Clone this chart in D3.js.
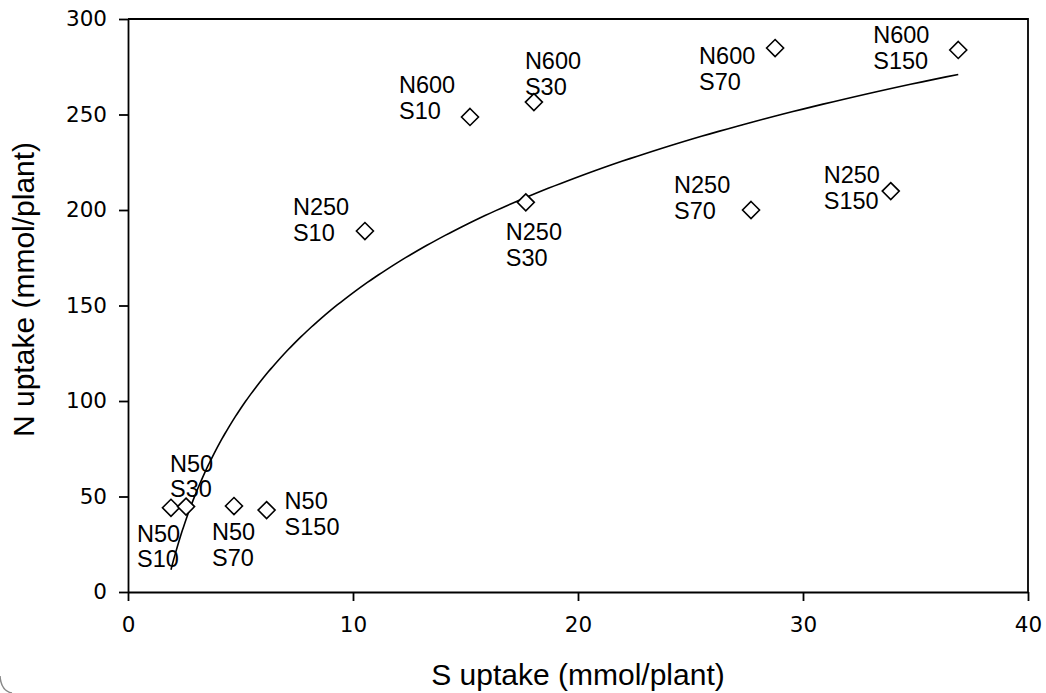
<!DOCTYPE html>
<html>
<head>
<meta charset="utf-8">
<script src="https://cdn.jsdelivr.net/npm/d3@7"></script>
<style>
  body { margin: 0; background: #fff; }
</style>
</head>
<body>
<div class="canvas"></div>
<script>
// data
const treatments = ['N50 S10','N50 S30','N50 S70','N50 S150',
                    'N250 S10','N600 S10','N600 S30','N250 S30',
                    'N250 S70','N600 S70','N600 S150','N250 S150'];
const sUptake = [1.91, 2.58, 4.71, 6.16, 10.53, 15.2, 18.04, 17.68, 27.69, 28.76, 36.9, 33.9];
const nUptake = [44.1, 44.7, 45.0, 42.9, 189.0, 248.7, 256.5, 204.0, 200.0, 284.8, 283.8, 209.9];
const xTicks = [0, 10, 20, 30, 40];
const yTicks = [0, 50, 100, 150, 200, 250, 300];

// label placement, relative to the point (left edge, first baseline)
const labelOffset = [[-34,34],[-16,-35],[-22,34],[18,-1],
                     [-72,-16],[-71,-24],[-9,-33],[-20,38],
                     [-77,-17],[-76,16],[-85,-7],[-67,-8]];

const svg = d3.select('.canvas')
    .append('svg')
    .attr('width', 1046)
    .attr('height', 693);

const margin = {top:19, right:18, bottom:101, left:128};
const graphWidth = 1046 - margin.left - margin.right;
const graphHeight = 693 - margin.top - margin.bottom;

const graph = svg.append('g')
    .attr('transform', `translate(${margin.left},${margin.top})`);

const x = d3.scaleLinear().domain([0, 40]).range([0, graphWidth]);
const y = d3.scaleLinear().domain([0, 300]).range([graphHeight, 0]);

// axes
const xAxis = d3.axisBottom(x).tickValues(xTicks).tickSize(9).tickSizeOuter(0).tickPadding(16);
const yAxis = d3.axisLeft(y).tickValues(yTicks).tickSize(9).tickSizeOuter(0).tickPadding(12);

const xAxisGroup = graph.append('g')
    .attr('transform', `translate(0, ${graphHeight})`)
    .call(xAxis);
const yAxisGroup = graph.append('g').call(yAxis);

[xAxisGroup, yAxisGroup].forEach(g => {
  g.selectAll('path, line').attr('stroke', '#000').attr('stroke-width', 1.8);
  g.selectAll('text')
    .attr('fill', '#000')
    .style('font-family', '"DejaVu Sans", sans-serif')
    .style('font-size', '21.5px');
});

// top + right frame
graph.append('path')
    .attr('d', `M0,0H${graphWidth}V${graphHeight}`)
    .attr('fill', 'none')
    .attr('stroke', '#000')
    .attr('stroke-width', 1.8);

// log trendline, least squares of y on ln(x)
const lx = sUptake.map(v => Math.log(v));
const mx = d3.mean(lx), my = d3.mean(nUptake);
const b = d3.sum(lx, (v,i) => (v-mx)*(nUptake[i]-my)) / d3.sum(lx, v => (v-mx)*(v-mx));
const a = my - b*mx;
const [x0, x1] = d3.extent(sUptake);
const fitPts = d3.range(0, 201).map(i => {
  const xv = x0 * Math.pow(x1/x0, i/200);
  return [xv, a + b*Math.log(xv)];
});
graph.append('path')
    .datum(fitPts)
    .attr('fill', 'none')
    .attr('stroke', '#000')
    .attr('stroke-width', 1.6)
    .attr('d', d3.line().x(d => x(d[0])).y(d => y(d[1])));

// points
const r = 8.5;
const pts = treatments.map((t,i) => ({name:t, s:sUptake[i], n:nUptake[i], off:labelOffset[i]}));
graph.selectAll('path.pt')
    .data(pts)
    .enter()
    .append('path')
    .attr('class', 'pt')
    .attr('d', `M0,${-r}L${r},0L0,${r}L${-r},0Z`)
    .attr('transform', d => `translate(${x(d.s)},${y(d.n)})`)
    .attr('fill', '#fff')
    .attr('stroke', '#000')
    .attr('stroke-width', 1.6);

// two-line labels
const labels = graph.selectAll('text.lab')
    .data(pts)
    .enter()
    .append('text')
    .attr('class', 'lab')
    .attr('x', d => x(d.s) + d.off[0])
    .attr('y', d => y(d.n) + d.off[1])
    .style('font-family', '"Liberation Sans", Arial, sans-serif')
    .style('font-size', '23.5px')
    .attr('fill', '#000');
labels.selectAll('tspan')
    .data(d => d.name.split(' ').map(t => ({t, x: x(d.s) + d.off[0]})))
    .enter()
    .append('tspan')
    .attr('x', d => d.x)
    .attr('dy', (d,i) => i ? 25.7 : 0)
    .text(d => d.t);

// axis titles
svg.append('text')
    .attr('x', margin.left + graphWidth/2)
    .attr('y', 685)
    .attr('text-anchor', 'middle')
    .style('font-family', '"Liberation Sans", Arial, sans-serif')
    .style('font-size', '30px')
    .text('S uptake (mmol/plant)');

svg.append('text')
    .attr('transform', 'translate(33.5,437) rotate(-90)')
    .attr('text-anchor', 'start')
    .style('font-family', '"Liberation Sans", Arial, sans-serif')
    .style('font-size', '30px')
    .text('N uptake (mmol/plant)');

// rounded corner of the frame at the bottom left
svg.append('path')
    .attr('d', 'M0,676Q1,691 12,693')
    .attr('fill', 'none')
    .attr('stroke', '#888')
    .attr('stroke-width', 1.5);
</script>
</body>
</html>
